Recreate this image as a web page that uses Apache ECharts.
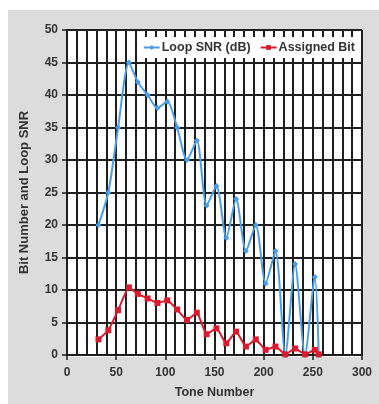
<!DOCTYPE html>
<html>
<head>
<meta charset="utf-8">
<script src="https://cdn.jsdelivr.net/npm/echarts@6/dist/echarts.min.js"></script>
<style>
html,body{margin:0;padding:0;background:#fff;}
#c{width:379px;height:404px;}
</style>
</head>
<body>
<div id="c"></div>
<script>
var tones = [32, 42, 52, 63, 72, 82, 92, 102, 112, 122, 132, 142, 152, 162, 172, 182, 192, 202, 212, 222, 232, 242, 252, 256];
var loopSNR = [20, 25, 35, 45, 42, 40, 38, 39, 35, 30, 33, 23, 26, 18, 24, 16, 20, 11, 16, 0, 14, 0, 12, 0];
var assignedBit = [2.4, 3.8, 6.9, 10.4, 9.4, 8.7, 8.0, 8.4, 7.0, 5.4, 6.5, 3.2, 4.1, 1.8, 3.6, 1.3, 2.4, 0.8, 1.3, 0.1, 1.0, 0.1, 0.8, 0.1];
var xTicks = [0, 50, 100, 150, 200, 250, 300];
var yTicks = [0, 5, 10, 15, 20, 25, 30, 35, 40, 45, 50];

function pairs(xs, ys) { return xs.map(function (x, i) { return [x, ys[i]]; }); }

var chart = echarts.init(document.getElementById('c'), null, {renderer: 'canvas'});
var font = 'Liberation Sans, Arial, sans-serif';
var gridColor = '#1e1e1e';
chart.setOption({
  animation: false,
  backgroundColor: '#ffffff',
  graphic: [{
    type: 'rect', left: 8, top: 10, z: -10,
    shape: {width: 371, height: 394},
    style: {fill: '#dcdcdc'}
  }, {
    type: 'rect', left: 67, top: 30, z: -9,
    shape: {width: 295, height: 327},
    style: {fill: '#ffffff'}
  }],
  grid: {left: 67, right: 17, top: 30, bottom: 47, containLabel: false},
  legend: {
    right: 18, top: 37,
    backgroundColor: '#ffffff',
    padding: [4, 6, 4, 4],
    itemGap: 9,
    itemWidth: 16, itemHeight: 6,
    textStyle: {fontFamily: font, fontSize: 12.5, fontWeight: 'bold', color: '#333', padding: [0, 0, 0, -3]},
    data: ['Loop SNR (dB)', 'Assigned Bit']
  },
  xAxis: {
    type: 'value', min: 0, max: 300, interval: 50,
    name: 'Tone Number', nameLocation: 'middle', nameGap: 31,
    nameTextStyle: {fontFamily: font, fontSize: 12.5, fontWeight: 'bold', color: '#333'},
    axisLine: {show: true, lineStyle: {color: gridColor, width: 2}},
    axisTick: {show: true, length: 5, lineStyle: {color: gridColor, width: 1.5}},
    axisLabel: {fontFamily: font, fontSize: 12, fontWeight: 'bold', color: '#333', margin: 12,
      formatter: function (v) { return xTicks.indexOf(v) >= 0 ? String(v) : ''; }},
    splitLine: {show: true, lineStyle: {color: gridColor, width: 2}},
    minorTick: {show: false, splitNumber: 5},
    minorSplitLine: {show: true, lineStyle: {color: gridColor, width: 2}}
  },
  yAxis: {
    type: 'value', min: 0, max: 50, interval: 5,
    name: 'Bit Number and Loop SNR', nameLocation: 'middle', nameGap: 36,
    nameTextStyle: {fontFamily: font, fontSize: 13, fontWeight: 'bold', color: '#333'},
    axisLine: {show: true, lineStyle: {color: gridColor, width: 2}},
    axisTick: {show: true, length: 5, lineStyle: {color: gridColor, width: 1.5}},
    axisLabel: {fontFamily: font, fontSize: 12, fontWeight: 'bold', color: '#333', margin: 9,
      formatter: function (v) { return yTicks.indexOf(v) >= 0 ? String(v) : ''; }},
    splitLine: {show: true, lineStyle: {color: gridColor, width: 2}}
  },
  series: [{
    name: 'Loop SNR (dB)', type: 'line',
    data: pairs(tones, loopSNR),
    smooth: 0.25,
    symbol: 'diamond', symbolSize: 6,
    itemStyle: {color: '#4a9de6'},
    lineStyle: {color: '#4a9de6', width: 2},
    z: 3
  }, {
    name: 'Assigned Bit', type: 'line',
    data: pairs(tones, assignedBit),
    smooth: 0.15,
    symbol: 'rect', symbolSize: 6,
    itemStyle: {color: '#d81b2e'},
    lineStyle: {color: '#d81b2e', width: 2},
    z: 4
  }]
});
</script>
</body>
</html>
